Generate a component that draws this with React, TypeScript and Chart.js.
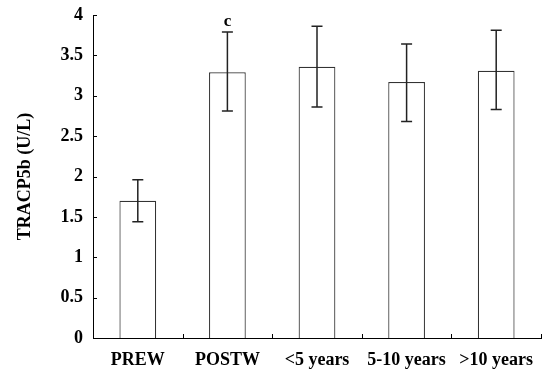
import React, { useEffect, useRef } from "react";
import { Chart, registerables } from "chart.js";

Chart.register(...registerables);

const categories = ["PREW", "POSTW", "<5 years", "5-10 years", ">10 years"];
const means = [1.7, 3.29, 3.36, 3.17, 3.31];
const errUpper = [1.96, 3.79, 3.86, 3.64, 3.81];
const errLower = [1.44, 2.81, 2.86, 2.68, 2.83];
const annotations = ["", "c", "", "", ""];
const yTicks = [0, 0.5, 1, 1.5, 2, 2.5, 3, 3.5, 4];

const FONT = "'Liberation Serif', 'Times New Roman', serif";

const extrasPlugin = {
  id: "extras",
  afterDatasetsDraw(chart: any) {
    const ctx = chart.ctx;
    const x = chart.scales.x;
    const y = chart.scales.y;
    const area = chart.chartArea;
    ctx.save();
    ctx.strokeStyle = "#222";
    ctx.lineWidth = 1.5;
    const cap = 5.5;
    means.forEach((_, i) => {
      const px = x.getPixelForValue(i);
      const top = y.getPixelForValue(errUpper[i]);
      const bot = y.getPixelForValue(errLower[i]);
      ctx.beginPath();
      ctx.moveTo(px, top);
      ctx.lineTo(px, bot);
      ctx.moveTo(px - cap, top);
      ctx.lineTo(px + cap, top);
      ctx.moveTo(px - cap, bot);
      ctx.lineTo(px + cap, bot);
      ctx.stroke();
      if (annotations[i]) {
        ctx.fillStyle = "#000";
        ctx.font = "bold 17px " + FONT;
        ctx.textAlign = "center";
        ctx.textBaseline = "bottom";
        ctx.fillText(annotations[i], px, top - 2);
      }
    });
    ctx.strokeStyle = "#000";
    ctx.lineWidth = 1;
    yTicks.forEach((v) => {
      const py = Math.round(y.getPixelForValue(v)) + 0.5;
      ctx.beginPath();
      ctx.moveTo(area.left, py);
      ctx.lineTo(area.left + 4, py);
      ctx.stroke();
    });
    const half = (x.getPixelForValue(1) - x.getPixelForValue(0)) / 2;
    for (let i = 0; i < categories.length; i++) {
      const px = Math.round(x.getPixelForValue(i) + half) + 0.5;
      ctx.beginPath();
      ctx.moveTo(px, area.bottom);
      ctx.lineTo(px, area.bottom - 4);
      ctx.stroke();
    }
    ctx.restore();
  },
};

export default function App() {
  const ref = useRef<HTMLCanvasElement>(null);
  useEffect(() => {
    document.body.style.margin = "0";
    const chart = new Chart(ref.current!, {
      type: "bar",
      data: {
        labels: categories,
        datasets: [
          {
            data: means,
            backgroundColor: "#ffffff",
            borderColor: "#333",
            borderWidth: 1.2,
            barPercentage: 0.41,
            categoryPercentage: 1,
          },
        ],
      },
      options: {
        animation: false,
        responsive: false,
        layout: { padding: { left: 0, right: 8, top: 15, bottom: 0 } },
        plugins: { legend: { display: false }, tooltip: { enabled: false } },
        scales: {
          x: {
            grid: { display: false, drawTicks: false },
            border: { display: true, color: "#000", width: 1 },
            ticks: {
              color: "#000",
              font: { family: FONT, size: 18, weight: "bold" },
              padding: 12,
              maxRotation: 0,
              autoSkip: false,
            },
            afterFit: (s: any) => {
              s.height = 32;
              s.paddingLeft = 0;
              s.paddingRight = 0;
            },
          },
          y: {
            min: 0,
            max: 4,
            grid: { display: false, drawTicks: false },
            border: { display: true, color: "#000", width: 1 },
            ticks: {
              stepSize: 0.5,
              color: "#000",
              font: { family: FONT, size: 18, weight: "bold" },
              padding: 10,
              callback: (v: any) => String(v),
            },
            title: {
              display: true,
              text: "TRACP5b (U/L)",
              color: "#000",
              font: { family: FONT, size: 18, weight: "bold" },
              padding: { top: 15, bottom: 0 },
            },
            afterFit: (s: any) => {
              s.width = 93;
              s.paddingTop = 0;
              s.paddingBottom = 0;
            },
          },
        },
      },
      plugins: [extrasPlugin],
    });
    return () => chart.destroy();
  }, []);
  return (
    <div style={{ width: 549, height: 370 }}>
      <canvas ref={ref} width={549} height={370} />
    </div>
  );
}
